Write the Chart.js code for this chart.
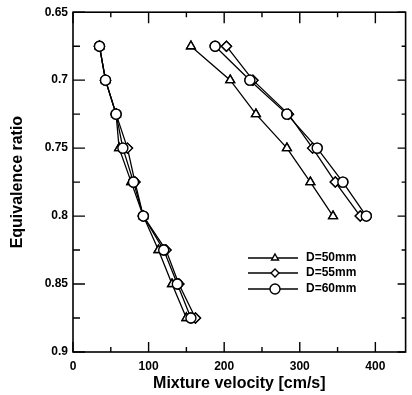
<!DOCTYPE html>
<html><head><meta charset="utf-8">
<script src="https://cdn.jsdelivr.net/npm/chart.js@4/dist/chart.umd.min.js"></script>
<style>html,body{margin:0;padding:0;background:#fff}#wrap{width:412px;height:395px}</style>
</head><body><div id="wrap"><canvas id="c" width="412" height="395"></canvas></div>
<script>
const seriesNames = ["D=50mm", "D=55mm", "D=60mm"];
// right-hand branch
const phiHigh = [0.675, 0.7, 0.725, 0.75, 0.775, 0.8];
const velHigh50 = [156, 208, 242, 283, 314, 344];
const velHigh55 = [203, 238, 285, 317, 347, 380];
const velHigh60 = [188, 234, 283, 323, 357, 388];
// left-hand branch
const phiLow = [0.675, 0.7, 0.725, 0.75, 0.775, 0.8, 0.825, 0.85, 0.875];
const velLow50 = [35, 43, 57, 61, 77, 93, 113, 131, 150];
const velLow55 = [35, 43, 57, 72, 82, 93, 123, 140, 162];
const velLow60 = [35, 43, 57, 66, 80, 93, 120, 138, 156];
const xTicks = [0, 100, 200, 300, 400];
const yTicks = [0.65, 0.7, 0.75, 0.8, 0.85, 0.9];

const styles = ["triangle", "rectRot", "circle"];
const radii = [5, 5, 5];
const pts = (xs, ys) => xs.map((v, i) => ({x: v, y: ys[i]}));
const highSets = [velHigh50, velHigh55, velHigh60];
const lowSets = [velLow50, velLow55, velLow60];
const datasets = [];
for (let k = 0; k < 3; k++) {
  datasets.push({label: seriesNames[k], data: pts(highSets[k], phiHigh)});
}
for (let k = 0; k < 3; k++) {
  datasets.push({label: seriesNames[k] + " low", data: pts(lowSets[k], phiLow)});
}
datasets.forEach((d, i) => {
  const k = i % 3;
  Object.assign(d, {borderColor: "#000", backgroundColor: "#fff", borderWidth: 1.3,
    pointStyle: styles[k], pointRadius: radii[k], pointBorderWidth: 1.4,
    pointBackgroundColor: "#fff", pointBorderColor: "#000", showLine: true, tension: 0});
});

const framePlugin = {
  id: "frame",
  afterDatasetsDraw(chart) {
    // redraw markers above every line so overlapping lines don't cover them
    const ctx = chart.ctx;
    ctx.save();
    chart.data.datasets.forEach((d, i) => {
      chart.getDatasetMeta(i).data.forEach(p => p.draw(ctx, chart.chartArea));
    });
    ctx.restore();
  },
  afterDraw(chart) {
    const ctx = chart.ctx, a = chart.chartArea, xs = chart.scales.x, ys = chart.scales.y;
    ctx.save();
    ctx.strokeStyle = "#000";
    ctx.lineWidth = 1.6;
    ctx.strokeRect(a.left, a.top, a.right - a.left, a.bottom - a.top);
    ctx.lineWidth = 1.4;
    ctx.beginPath();
    for (let v = 0; v <= xs.max; v += 50) {
      const px = xs.getPixelForValue(v);
      const major = v % 100 === 0;
      ctx.moveTo(px, a.bottom); ctx.lineTo(px, a.bottom - (major ? 10 : 5));
      ctx.moveTo(px, a.top); ctx.lineTo(px, a.top + (major ? 11 : 5));
    }
    for (let i = 0; i <= 10; i++) {
      const v = 0.65 + i * 0.025;
      const py = ys.getPixelForValue(v);
      const major = i % 2 === 0;
      ctx.moveTo(a.left, py); ctx.lineTo(a.left + (major ? 12 : 7), py);
      ctx.moveTo(a.right, py); ctx.lineTo(a.right - (major ? 8 : 4), py);
    }
    ctx.stroke();
    // legend
    const lx0 = 248, lx1 = 298, mx = 275, rows = [258, 273, 289];
    ctx.textBaseline = "middle";
    for (let k = 0; k < 3; k++) {
      const y = rows[k];
      ctx.lineWidth = 1.3;
      ctx.strokeStyle = "#000";
      ctx.beginPath(); ctx.moveTo(lx0, y); ctx.lineTo(lx1, y); ctx.stroke();
      ctx.fillStyle = "#fff";
      ctx.lineWidth = 1.4;
      Chart.helpers.drawPoint(ctx, {pointStyle: styles[k], radius: k === 2 ? 5 : 4, borderWidth: 1.4}, mx, y);
      ctx.fillStyle = "#000";
      ctx.font = "bold 12px 'Liberation Sans', Arial, sans-serif";
      ctx.fillText(seriesNames[k], 306, y);
    }
    ctx.restore();
  }
};

const tickFont = {family: "'Liberation Sans', Arial, sans-serif", size: 12, weight: "bold"};
const titleFont = {family: "'Liberation Sans', Arial, sans-serif", size: 16, weight: "bold"};

new Chart(document.getElementById("c"), {
  type: "scatter",
  data: {datasets},
  options: {
    responsive: false, animation: false, devicePixelRatio: 1,
    layout: {padding: {top: 9, right: 2, left: 0, bottom: 0}},
    plugins: {legend: {display: false}, tooltip: {enabled: false}},
    scales: {
      x: {type: "linear", min: 0, max: 440,
        afterBuildTicks: s => { s.ticks = xTicks.map(v => ({value: v})); },
        afterFit: s => { s.height = 43; },
        grid: {display: false, drawTicks: false}, border: {display: false},
        ticks: {color: "#000", font: tickFont, padding: 7, maxRotation: 0},
        title: {display: true, text: "Mixture velocity [cm/s]", color: "#000", font: titleFont, padding: {top: 2, bottom: 2}}},
      y: {type: "linear", min: 0.65, max: 0.9, reverse: true,
        afterBuildTicks: s => { s.ticks = yTicks.map(v => ({value: v})); },
        afterFit: s => { s.width = 73; },
        grid: {display: false, drawTicks: false}, border: {display: false},
        ticks: {color: "#000", font: tickFont, padding: 5, callback: v => String(+v.toFixed(2))},
        title: {display: true, text: "Equivalence ratio", color: "#000", font: titleFont, padding: {top: 8, bottom: 8}}}
    }
  },
  plugins: [framePlugin]
});
</script></body></html>
